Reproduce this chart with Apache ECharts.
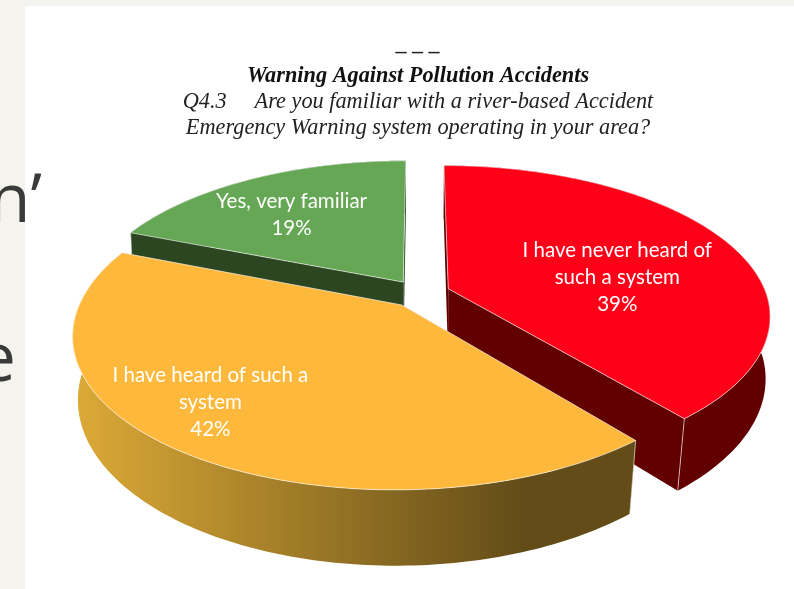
<!DOCTYPE html>
<html><head><meta charset="utf-8">
<style>html,body{margin:0;padding:0;background:#fff}#c{width:794px;height:589px}</style>
<script src="https://cdn.jsdelivr.net/npm/echarts@6/dist/echarts.min.js"></script>
</head><body><div id="c"></div>
<script>
// ---- data ----
const categories = ['I have never heard of\nsuch a system', 'I have heard of such a\nsystem', 'Yes, very familiar'];
const shareValues = [39, 42, 19];
const titleText = 'Warning Against Pollution Accidents';
const subtitleText = 'Q4.3\u00a0\u00a0\u00a0\u00a0\u00a0Are you familiar with a river-based Accident\nEmergency Warning system operating in your area?';
const cutOffWords = ['n\u2019', 'e'];

// ---- styling and 3D projection of the pie ----
const topColors = ['#ff0019', '#feb93c', '#65a754'];
const sideColors = ['#620000', null, '#2b4620'];
const stacking = [1, 2, 0];
const labelSpot = [[0.58, 0.55], [0.54, 0.777], [0.453, 0.648]];
const cornerEdge = ['end', 'start', 'start'];
const P = {cx: 420, cy: 293.5, a: 318, b: 147, k: 0.18, explode: 0.095, depth: 64, depthFront: 11, skew: 3};
const rad = d => d * Math.PI / 180;
const total = shareValues.reduce((s, v) => s + v, 0);

function world(bis, th, r) {
  return [P.explode * Math.sin(rad(bis)) + r * Math.sin(rad(th)), P.explode * Math.cos(rad(bis)) + r * Math.cos(rad(th))];
}
function top3(bis, th, r) {
  const [X, Z] = world(bis, th, r), s = 1 / (1 + P.k * Z);
  return [P.cx + P.a * X * s + P.skew * Math.min(Z, 0), P.cy - P.b * Z * s];
}
function bot3(bis, th, r) {
  const [X, Z] = world(bis, th, r), s = 1 / (1 + P.k * Z);
  const shrink = 0.99 + 0.02 * Math.min(Z, 0);
  return [P.cx + shrink * P.a * X * s + P.skew * Math.min(Z, 0), P.cy - P.b * Z * s + P.depth - P.depthFront * Z];
}
function arc(fn, bis, a0, a1) {
  const pts = [];
  const n = Math.ceil(Math.abs(a1 - a0));
  for (let i = 0; i <= n; i++) pts.push(fn(bis, a0 + (a1 - a0) * i / n, 1));
  return pts;
}
const edge = 'rgba(255,255,255,0.6)';

function renderItem(params, api) {
  const i = params.dataIndex, v = api.value(0);
  let a0 = 0;
  for (let j = 0; j < i; j++) a0 += shareValues[j] / total * 360;
  const a1 = a0 + v / total * 360, bis = (a0 + a1) / 2;
  const z = stacking[i] * 10;
  const side = sideColors[i] || new echarts.graphic.LinearGradient(0, 0, 1, 0, [
    {offset: 0, color: '#dcaa37'}, {offset: 0.8, color: '#634c18'}, {offset: 1, color: '#634c18'}]);
  const wallFill = sideColors[i] || '#634c18';
  const topArc = arc(top3, bis, a0, a1), botArc = arc(bot3, bis, a0, a1);
  const cT = top3(bis, 0, 0), cB = bot3(bis, 0, 0);
  const kids = [];
  const poly = (points, fill, stroke, zz) => kids.push({type: 'polygon', z2: z + zz, shape: {points},
    style: {fill, stroke: stroke || null, lineWidth: stroke ? 1 : 0}});
  poly([cT, cB, botArc[0], topArc[0]], wallFill, null, 1);
  poly([cT, cB, botArc[botArc.length - 1], topArc[topArc.length - 1]], wallFill, null, 1);
  poly(topArc.concat(botArc.slice().reverse()), side, null, 2);
  poly([cT].concat(topArc), topColors[i], edge, 3);
  const c = cornerEdge[i] === 'end' ? topArc.length - 1 : 0;
  kids.push({type: 'polyline', z2: z + 4, shape: {points: [topArc[c], botArc[c]]}, style: {stroke: edge, lineWidth: 1, fill: null}});
  const spot = top3(bis, a0 + (a1 - a0) * labelSpot[i][0], labelSpot[i][1]);
  kids.push({type: 'text', z2: 100, x: spot[0], y: spot[1], style: {
    text: api.value(1) + '\n' + v + '%', fill: '#fff', align: 'center', verticalAlign: 'middle',
    font: '20.5px Lato', lineHeight: 27}});
  return {type: 'group', children: kids};
}

const chart = echarts.init(document.getElementById('c'), null, {renderer: 'canvas'});
chart.setOption({
  animation: false,
  backgroundColor: '#f4f3ee',
  title: {
    text: titleText, subtext: subtitleText, left: 413, top: 58, textAlign: 'center', itemGap: 0,
    textStyle: {fontFamily: 'Liberation Serif', fontStyle: 'italic', fontWeight: 'bold', fontSize: 22.3, color: '#111', lineHeight: 26},
    subtextStyle: {fontFamily: 'Liberation Serif', fontStyle: 'italic', fontSize: 22.3, color: '#222', lineHeight: 26, align: 'center'}
  },
  graphic: [
    {type: 'rect', z: -10, shape: {x: 25, y: 6, width: 769, height: 583}, style: {fill: '#fff'}},
    {type: 'text', z: 5, x: 417.5, y: 52, style: {text: '\u2013 \u2013 \u2013', fill: '#222', align: 'center', verticalAlign: 'middle', font: 'bold 22px Liberation Serif'}},
    {type: 'text', z: 5, x: 42, y: 169, style: {text: cutOffWords[0], fill: '#3a3a3a', align: 'right', font: '400 68px Open Sans'}},
    {type: 'text', z: 5, x: 16, y: 328, style: {text: cutOffWords[1], fill: '#3a3a3a', align: 'right', font: '400 68px Open Sans'}}
  ],
  series: [{
    type: 'custom', coordinateSystem: 'none', silent: true,
    data: shareValues.map((v, i) => [v, categories[i]]),
    dimensions: [{name: 'share', type: 'number'}, {name: 'label', type: 'ordinal'}],
    renderItem
  }]
});
</script></body></html>
